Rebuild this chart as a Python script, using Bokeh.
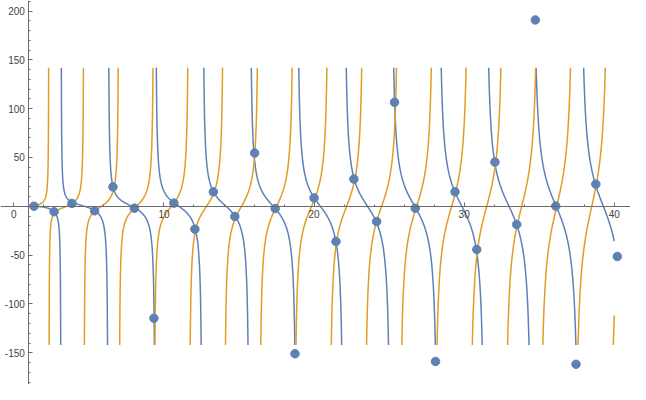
import numpy as np
from bokeh.plotting import figure
from bokeh.models import Range1d, FixedTicker
from bokeh.embed import file_html
from bokeh.resources import INLINE

# ---- data -------------------------------------------------------------
# sampled points (ListPlot) – x and y read off the picture
point_x = [1.34, 2.68, 3.87, 5.38, 6.60, 8.03, 9.33, 10.66, 12.06, 13.29,
           14.72, 16.04, 17.41, 18.73, 20.00, 21.46, 22.65, 24.17, 25.36, 26.74,
           28.09, 29.39, 30.84, 32.05, 33.50, 34.74, 36.10, 37.45, 38.77, 40.20]
point_y = [0.1, -5.5, 3.0, -4.6, 19.9, -1.9, -114.7, 3.3, -23.4, 14.8,
           -10.4, 54.5, -2.3, -151.0, 8.6, -36.0, 27.9, -15.6, 106.6, -1.9,
           -158.9, 14.8, -44.2, 45.3, -18.6, 190.9, 0.2, -161.8, 22.7, -51.4]

# plotted functions (Plot over x in [1, 40], curves clipped at +-142):
#   blue   : x * cot(x)              (poles at k*pi)
#   orange : -z * cot(z), z = 3*pi*x/7   (poles every 7/3)
x_start, x_end = 1.0, 40.0
curve_clip = 142.0

x_tick_values = [0, 10, 20, 30, 40]
x_minor_values = [v for v in range(2, 41, 2) if v % 10]
y_tick_values = [-150, -100, -50, 50, 100, 150, 200]
y_tick_labels = ["-150", "-100", "-50", "50", "100", "150", "200"]
y_minor_values = [v for v in range(-180, 211, 10) if v % 50]

BLUE = "#5E81B5"
ORANGE = "#E19C24"


def clipped(xs, ys, lim):
    """Split a function sample into the runs that stay inside +-lim,
    extending each run by its clipped neighbour, NaN between runs."""
    inside = np.abs(ys) <= lim
    ox, oy = [], []
    n = len(xs)
    i = 0
    while i < n:
        if not inside[i]:
            i += 1
            continue
        j = i
        while j + 1 < n and inside[j + 1]:
            j += 1
        lo = i - 1 if i > 0 else i
        hi = j + 1 if j + 1 < n else j
        seg_x = xs[lo:hi + 1]
        seg_y = np.clip(ys[lo:hi + 1], -lim, lim)
        ox.extend(seg_x.tolist()); oy.extend(seg_y.tolist())
        ox.append(np.nan); oy.append(np.nan)
        i = j + 1
    return ox, oy


xs = np.linspace(x_start, x_end, 30001)
with np.errstate(divide="ignore", invalid="ignore"):
    blue_y = xs / np.tan(xs)
    z = 3 * np.pi * xs / 7
    orange_y = -z / np.tan(z)

bx, by = clipped(xs, blue_y, curve_clip)
ox, oy = clipped(xs, orange_y, curve_clip)

p = figure(width=630, height=384, output_backend="svg", toolbar_location=None,
           x_range=Range1d(-0.89, 41.08), y_range=Range1d(-182.5, 210.8),
           min_border=0, background_fill_color="white")
p.outline_line_color = None
p.grid.visible = False

p.line(bx, by, line_color=BLUE, line_width=1.5)
p.line(ox, oy, line_color=ORANGE, line_width=1.5)
p.scatter(point_x, point_y, size=8.5, fill_color=BLUE, line_color=BLUE)

AX = "#6b6b6b"
for ax in (p.xaxis[0], p.yaxis[0]):
    ax.axis_line_color = AX
    ax.axis_line_width = 1
    ax.major_tick_line_color = AX
    ax.minor_tick_line_color = AX
    ax.major_tick_in = 4
    ax.major_tick_out = 0
    ax.minor_tick_in = 2
    ax.minor_tick_out = 0
    ax.major_label_text_font = "Liberation Sans"
    ax.major_label_text_font_size = "10px"
    ax.major_label_text_color = "#444444"
    ax.major_label_standoff = 4

p.xaxis.fixed_location = 0
p.yaxis.fixed_location = 1
p.xaxis.ticker = FixedTicker(ticks=x_tick_values, minor_ticks=x_minor_values)
p.yaxis.ticker = FixedTicker(ticks=y_tick_values, minor_ticks=y_minor_values)
p.yaxis.major_label_overrides = {v: s for v, s in zip(y_tick_values, y_tick_labels)}

open("out.html", "w").write(file_html(p, INLINE))
